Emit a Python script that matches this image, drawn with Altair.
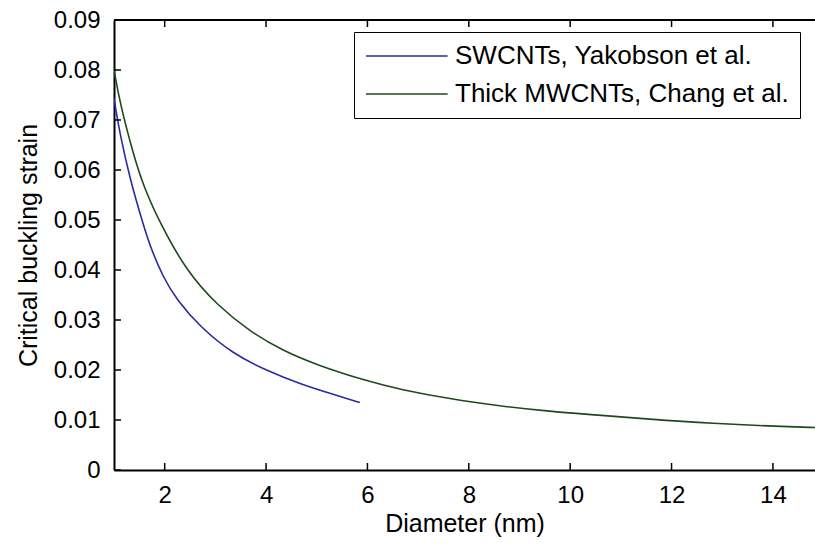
import altair as alt
import pandas as pd

# ---- data ----
sw_d = [1.0, 1.12, 1.32, 1.58, 1.71, 1.97, 2.24, 2.70, 3.35, 4.01, 4.67, 5.33, 5.85]
sw_v = [0.0743, 0.0670, 0.0580, 0.0490, 0.0448, 0.0385, 0.0340, 0.0286, 0.0232, 0.0199, 0.0172, 0.0151, 0.0135]

mw_d = [1.0, 1.12, 1.38, 1.58, 1.91, 2.43, 3.03, 3.68, 4.34, 5.0, 6.02, 6.64, 7.63, 8.61, 9.60, 10.55, 11.51, 12.82, 14.14, 14.83]
mw_v = [0.0800, 0.0733, 0.0632, 0.0568, 0.0493, 0.0398, 0.0330, 0.0277, 0.0238, 0.0210, 0.0177, 0.0161, 0.0142, 0.0128, 0.0117, 0.0110, 0.0102, 0.0093, 0.0087, 0.0085]

series_names = ["SWCNTs, Yakobson et al.", "Thick MWCNTs, Chang et al."]
series_colors = ["#2a2aa6", "#1d4a1d"]

x_ticks = [2, 4, 6, 8, 10, 12, 14]
y_ticks = [0, 0.01, 0.02, 0.03, 0.04, 0.05, 0.06, 0.07, 0.08, 0.09]
x_domain = [1, 14.83]
y_domain = [0, 0.09]

df = pd.DataFrame({
    "d": sw_d + mw_d,
    "v": sw_v + mw_v,
    "s": [series_names[0]] * len(sw_d) + [series_names[1]] * len(mw_d),
})
xt_df = pd.DataFrame({"t": x_ticks})
yt_df = pd.DataFrame({"t": y_ticks})

FONT = "Liberation Sans"
W, H = 701, 450


def xscale():
    return alt.Scale(domain=x_domain, nice=False, zero=False)


def yscale():
    return alt.Scale(domain=y_domain, nice=False, zero=False)


x_axis = alt.Axis(
    orient="bottom", values=x_ticks, ticks=False, grid=False,
    domain=True, domainColor="black", domainWidth=2,
    labelFont=FONT, labelFontSize=24, labelColor="black", labelPadding=13,
    labelFlush=False, format="d",
    title="Diameter (nm)", titleFont=FONT, titleFontSize=25, titleFontWeight="normal",
    titleColor="black", titlePadding=4)
y_axis = alt.Axis(
    orient="left", values=y_ticks, ticks=False, grid=False,
    domain=True, domainColor="black", domainWidth=2,
    labelFont=FONT, labelFontSize=24, labelColor="black", labelPadding=14,
    labelFlush=False, format=".2~f",
    title="Critical buckling strain", titleFont=FONT, titleFontSize=25,
    titleFontWeight="normal", titleColor="black", titlePadding=12)

lines = alt.Chart(df).mark_line(strokeWidth=1.6, interpolate="basis", clip=True).encode(
    x=alt.X("d:Q", scale=xscale(), axis=x_axis),
    y=alt.Y("v:Q", scale=yscale(), axis=y_axis),
    color=alt.Color("s:N", scale=alt.Scale(domain=series_names, range=series_colors),
        legend=alt.Legend(
            title=None, orient="none", legendX=240, legendY=12,
            symbolType="M-1,0H5.8", symbolSize=576, symbolStrokeWidth=1.6,
            labelFont=FONT, labelFontSize=26, labelColor="black", labelLimit=500,
            labelOffset=64, strokeColor="black", fillColor="white",
            padding=11, rowPadding=12)),
)

# inward-pointing ticks (MATLAB style), positioned through identical scales
bottom_ticks = alt.Chart(xt_df).mark_rule(color="black", strokeWidth=1.5).encode(
    x=alt.X("t:Q", scale=xscale(), axis=None),
    y=alt.value(H), y2=alt.value(H - 7),
)
top_ticks = alt.Chart(xt_df).mark_rule(color="black", strokeWidth=1.5).encode(
    x=alt.X("t:Q", scale=xscale(), axis=None),
    y=alt.value(0), y2=alt.value(7),
)
left_ticks = alt.Chart(yt_df).mark_rule(color="black", strokeWidth=1.5).encode(
    y=alt.Y("t:Q", scale=yscale(), axis=None),
    x=alt.value(0), x2=alt.value(7),
)
top_border = alt.Chart(xt_df).mark_rule(color="black", strokeWidth=2).encode(
    x=alt.value(0), x2=alt.value(W), y=alt.value(0),
)

chart = alt.layer(lines, bottom_ticks, top_ticks, left_ticks, top_border).resolve_scale(
    x="independent", y="independent"
).properties(
    width=W, height=H,
    padding={"left": 114, "top": 20, "right": 0, "bottom": 76},
    autosize=alt.AutoSizeParams(type="none"),
    background="white",
).configure_view(stroke=None)

chart.save("out.html", embed_options={"renderer": "svg", "actions": False})
